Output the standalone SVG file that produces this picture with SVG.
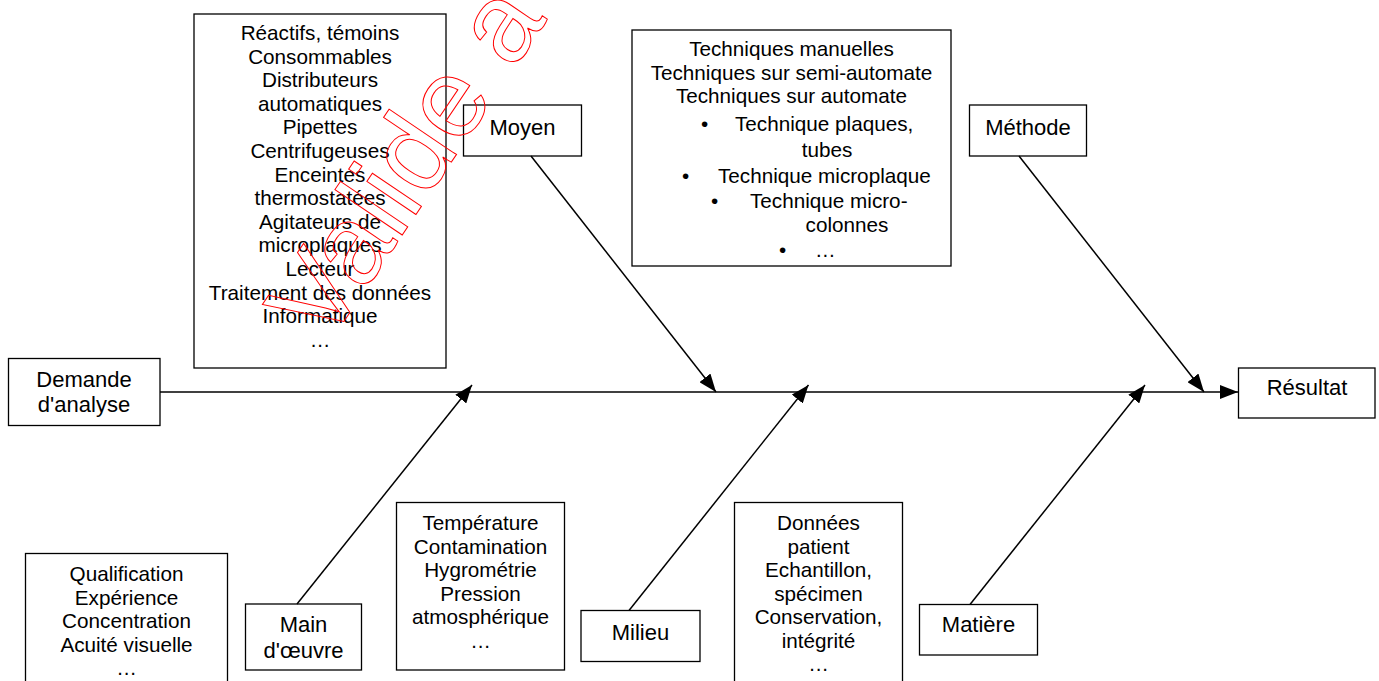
<svg xmlns="http://www.w3.org/2000/svg" width="1379" height="681" viewBox="0 0 1379 681">
<defs>
<style>
.box{fill:#fff;stroke:#000;stroke-width:1.3}
.t{font-family:"Liberation Sans",Arial,sans-serif;font-size:20.7px;fill:#000;text-anchor:middle}
.l{font-family:"Liberation Sans",Arial,sans-serif;font-size:22px;fill:#000;text-anchor:middle}
.s{text-anchor:start}
.c{stroke:#000;stroke-width:1.5;fill:none}
.wm{font-family:"Liberation Sans",Arial,sans-serif;font-size:112px;fill:none;stroke:#ff0000;stroke-width:1}
</style>
<marker id="ah" markerUnits="userSpaceOnUse" markerWidth="18" markerHeight="14" refX="18" refY="7" orient="auto">
<path d="M0,0 L18,7 L0,14 z" fill="#000"/>
</marker>
</defs>
<rect width="1379" height="681" fill="#fff"/>

<g id="moyen-list">
<rect class="box" x="194" y="14" width="252" height="354"/>
<text class="t" x="320" y="40">Réactifs, témoins</text>
<text class="t" x="320" y="63.6">Consommables</text>
<text class="t" x="320" y="87.2">Distributeurs</text>
<text class="t" x="320" y="110.8">automatiques</text>
<text class="t" x="320" y="134.4">Pipettes</text>
<text class="t" x="320" y="158">Centrifugeuses</text>
<text class="t" x="320" y="181.6">Enceintes</text>
<text class="t" x="320" y="205.2">thermostatées</text>
<text class="t" x="320" y="228.8">Agitateurs de</text>
<text class="t" x="320" y="252.4">microplaques</text>
<text class="t" x="320" y="276">Lecteur</text>
<text class="t" x="320" y="299.6">Traitement des données</text>
<text class="t" x="320" y="323.2">Informatique</text>
<text class="t" x="320" y="347">…</text>
</g>

<g id="moyen">
<rect class="box" x="463.5" y="105" width="118" height="51"/>
<text class="l" x="522.5" y="134.5">Moyen</text>
</g>

<g id="methode-list">
<rect class="box" x="632" y="30" width="319" height="236"/>
<text class="t" x="791.5" y="56">Techniques manuelles</text>
<text class="t" x="791.5" y="79.5">Techniques sur semi-automate</text>
<text class="t" x="791.5" y="103">Techniques sur automate</text>
<text class="t s" x="701" y="131">•</text>
<text class="t s" x="735" y="131">Technique plaques,</text>
<text class="t" x="827" y="157">tubes</text>
<text class="t s" x="682" y="183">•</text>
<text class="t s" x="718" y="183">Technique microplaque</text>
<text class="t s" x="711" y="208">•</text>
<text class="t s" x="750" y="208">Technique micro-</text>
<text class="t" x="847" y="232">colonnes</text>
<text class="t s" x="779" y="257">•</text>
<text class="t s" x="815" y="257">…</text>
</g>

<g id="methode">
<rect class="box" x="969.5" y="105" width="117" height="51"/>
<text class="l" x="1028" y="134.5">Méthode</text>
</g>

<g id="demande">
<rect class="box" x="8.5" y="358.5" width="151.5" height="67"/>
<text class="l" x="84" y="387">Demande</text>
<text class="l" x="84" y="411.5">d'analyse</text>
</g>

<g id="resultat">
<rect class="box" x="1238.5" y="368" width="136.5" height="50"/>
<text class="l" x="1307" y="395">Résultat</text>
</g>

<g id="main-list">
<rect class="box" x="25.5" y="553.5" width="202" height="140"/>
<text class="t" x="126.5" y="581">Qualification</text>
<text class="t" x="126.5" y="604.5">Expérience</text>
<text class="t" x="126.5" y="628">Concentration</text>
<text class="t" x="126.5" y="651.5">Acuité visuelle</text>
<text class="t" x="126.5" y="675">…</text>
</g>

<g id="main-oeuvre">
<rect class="box" x="245.5" y="604" width="116" height="66"/>
<text class="l" x="303.5" y="632">Main</text>
<text class="l" x="303.5" y="658">d'œuvre</text>
</g>

<g id="milieu-list">
<rect class="box" x="396.5" y="502.5" width="168" height="167.5"/>
<text class="t" x="480.5" y="530">Température</text>
<text class="t" x="480.5" y="553.5">Contamination</text>
<text class="t" x="480.5" y="577">Hygrométrie</text>
<text class="t" x="480.5" y="600.5">Pression</text>
<text class="t" x="480.5" y="624">atmosphérique</text>
<text class="t" x="480.5" y="647.5">…</text>
</g>

<g id="milieu">
<rect class="box" x="581" y="610.5" width="119" height="51"/>
<text class="l" x="640.5" y="640">Milieu</text>
</g>

<g id="matiere-list">
<rect class="box" x="734.5" y="502.5" width="168" height="190"/>
<text class="t" x="818.5" y="530">Données</text>
<text class="t" x="818.5" y="553.5">patient</text>
<text class="t" x="818.5" y="577">Echantillon,</text>
<text class="t" x="818.5" y="600.5">spécimen</text>
<text class="t" x="818.5" y="624">Conservation,</text>
<text class="t" x="818.5" y="647.5">intégrité</text>
<text class="t" x="818.5" y="671">…</text>
</g>

<g id="matiere">
<rect class="box" x="919.5" y="604.5" width="118" height="50.5"/>
<text class="l" x="978.5" y="632">Matière</text>
</g>

<g id="connectors">
<line class="c" x1="160" y1="392" x2="1238" y2="392" marker-end="url(#ah)"/>
<line class="c" x1="531" y1="156" x2="716" y2="392" marker-end="url(#ah)"/>
<line class="c" x1="1019" y1="156" x2="1204" y2="392" marker-end="url(#ah)"/>
<line class="c" x1="297" y1="604" x2="472" y2="385" marker-end="url(#ah)"/>
<line class="c" x1="629" y1="610.5" x2="808.5" y2="385" marker-end="url(#ah)"/>
<line class="c" x1="970" y1="604.5" x2="1145" y2="385" marker-end="url(#ah)"/>
</g>

<text class="wm" transform="translate(326,348) rotate(-56)">Valide a</text>
</svg>
